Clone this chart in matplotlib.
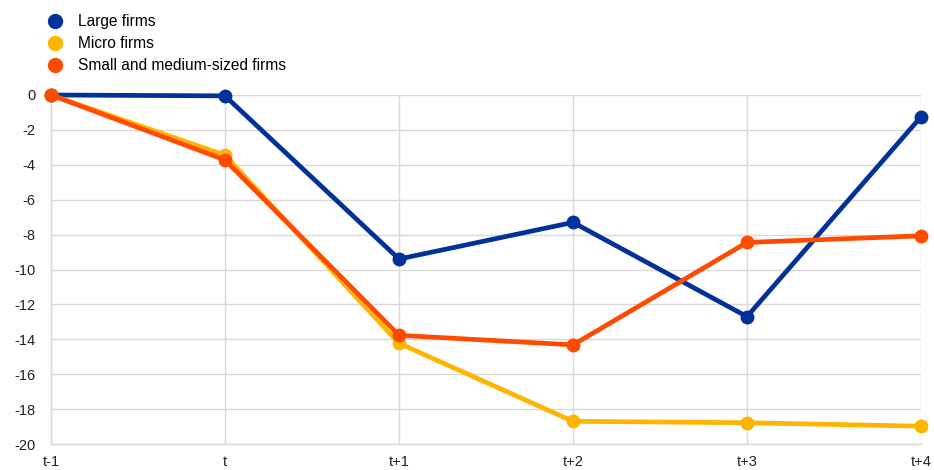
import matplotlib
matplotlib.use("Agg")
import matplotlib.pyplot as plt
from matplotlib.lines import Line2D

plt.rcParams['font.family'] = ['Liberation Sans', 'DejaVu Sans']

periods = ["t-1", "t", "t+1", "t+2", "t+3", "t+4"]
large_firms = [0.0, -0.05, -9.4, -7.3, -12.7, -1.25]
micro_firms = [0.0, -3.45, -14.23, -18.7, -18.78, -18.98]
sme_firms = [0.0, -3.72, -13.77, -14.32, -8.45, -8.07]
y_ticks = [0, -2, -4, -6, -8, -10, -12, -14, -16, -18, -20]

series = [
    ("Large firms", large_firms, "#003299"),
    ("Micro firms", micro_firms, "#FFB400"),
    ("Small and medium-sized firms", sme_firms, "#FF4B00"),
]

fig = plt.figure(figsize=(9.34, 4.70), dpi=100)
ax = fig.add_axes([51 / 934, 26 / 470, 870 / 934, 349 / 470])

x = list(range(len(periods)))
for name, vals, color in series:
    ax.plot(x, vals, color=color, lw=3.4, marker="o", ms=9,
            solid_capstyle="round", clip_on=False, zorder=3)

ax.set_xlim(0, len(periods) - 1)
ax.set_ylim(-20, 0)
ax.set_yticks(y_ticks)
ax.set_yticklabels([str(v) for v in y_ticks])
ax.set_xticks(x)
ax.set_xticklabels(periods)

ax.grid(True, color="#d9d9d9", lw=1.0, zorder=0)
for side in ["top", "right"]:
    ax.spines[side].set_visible(False)
for side in ["left", "bottom"]:
    ax.spines[side].set_color("#d9d9d9")
    ax.spines[side].set_linewidth(1.0)
ax.tick_params(axis="both", length=0, labelsize=10.5, colors="#222222")
ax.tick_params(axis="y", pad=11)
ax.tick_params(axis="x", pad=8)

handles = [Line2D([], [], color=c, marker="o", ls="none", ms=10) for _, _, c in series]
fig.legend(handles, [n for n, _, _ in series], loc="upper left",
           bbox_to_anchor=(47 / 934, 1 - 14 / 470), frameon=False,
           fontsize=11.2, handletextpad=0.97, labelspacing=0.45,
           handlelength=1.0, borderaxespad=0, borderpad=0)

fig.savefig("out.png", dpi=100)
